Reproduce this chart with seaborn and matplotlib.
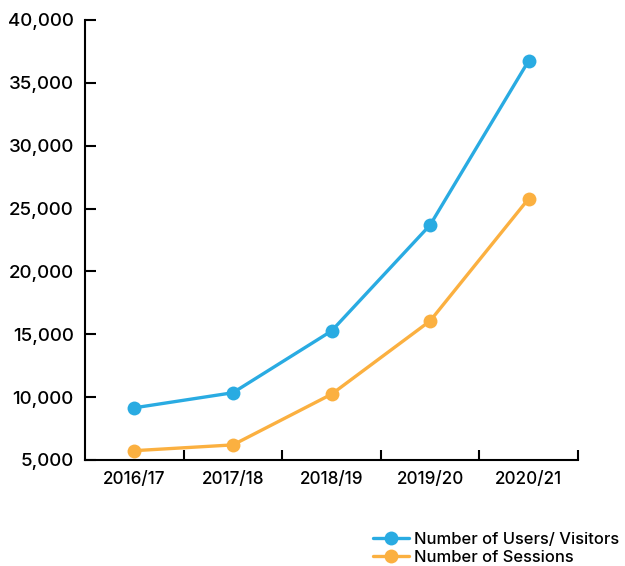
import matplotlib
matplotlib.use("Agg")
import matplotlib.pyplot as plt
import pandas as pd
import seaborn as sns
from matplotlib.ticker import FuncFormatter, FixedLocator
from matplotlib.lines import Line2D

years = ["2016/17", "2017/18", "2018/19", "2019/20", "2020/21"]
users_visitors = [9150, 10350, 15260, 23690, 36760]
sessions = [5740, 6200, 10230, 16060, 25790]
series_names = ["Number of Users/ Visitors", "Number of Sessions"]
colors = ["#29ABE2", "#FBB040"]

df = pd.DataFrame({
    "year": years * 2,
    "pos": list(range(len(years))) * 2,
    "value": users_visitors + sessions,
    "series": [series_names[0]] * len(years) + [series_names[1]] * len(years),
})

sns.set_style("white")
plt.rcParams["font.family"] = ["Inter", "DejaVu Sans"]
plt.rcParams["font.weight"] = "medium"
plt.rcParams["text.color"] = "black"

fig = plt.figure(figsize=(6.25, 5.66), dpi=100)
ax = fig.add_axes([0.136, 0.1873, 0.7888, 0.7774])

sns.lineplot(data=df, x="pos", y="value", hue="series", palette=colors,
             marker="o", markersize=10, markeredgewidth=0, linewidth=2.4,
             legend=False, ax=ax)

ax.set_xlim(-0.5, 4.5)
ax.set_ylim(5000, 40000)
ax.set_yticks(range(5000, 40001, 5000))
ax.yaxis.set_major_formatter(FuncFormatter(lambda v, p: f"{int(v):,}"))
ax.set_xticks(range(len(years)))
ax.set_xticklabels(years)
ax.xaxis.set_minor_locator(FixedLocator([0.5, 1.5, 2.5, 3.5, 4.5]))

ax.tick_params(axis="y", left=True, direction="in", length=8, width=1.5,
               color="black", labelsize=13.5, pad=8, labelcolor="black")
ax.tick_params(axis="x", which="major", bottom=True, length=0, labelsize=12.3,
               pad=8, labelcolor="black")
ax.tick_params(axis="x", which="minor", bottom=True, direction="in", length=7,
               width=1.5, color="black")

for side in ["top", "right"]:
    ax.spines[side].set_visible(False)
for side in ["left", "bottom"]:
    ax.spines[side].set_color("black")
    ax.spines[side].set_linewidth(1.5)
ax.set_xlabel("")
ax.set_ylabel("")

handles = [Line2D([0], [0], color=c, lw=2.4, marker="o", markersize=10,
                  markeredgewidth=0) for c in colors]
leg = fig.legend(handles, series_names, loc="lower left",
                 bbox_to_anchor=(0.578, -0.019), frameon=False,
                 handlelength=2.2, handletextpad=0.3, labelspacing=0.2,
                 borderaxespad=0.3, prop={"weight": "medium", "size": 11.9})
for t in leg.get_texts():
    t.set_color("black")

fig.savefig("out.png", dpi=100, facecolor="white")
